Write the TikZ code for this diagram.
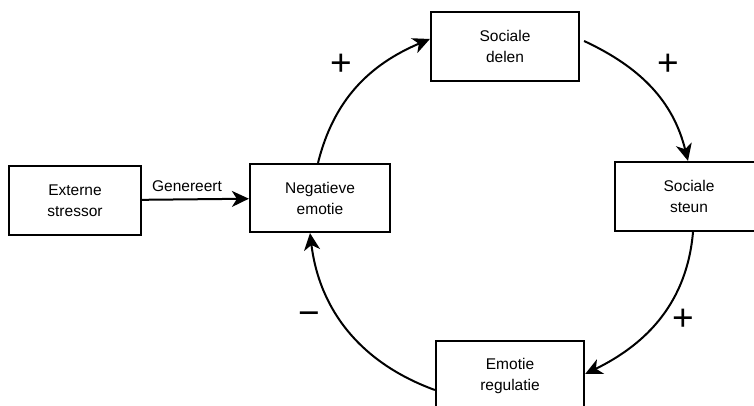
\documentclass[tikz,border=0pt]{standalone}
\usepackage{fontspec}
\setmainfont{Liberation Sans}
\usetikzlibrary{arrows.meta}
\tikzset{
  box/.style={draw=black, line width=2.2pt, fill=white, align=center, inner sep=0pt,
    font=\fontsize{15.5}{21}\selectfont, minimum height=69pt},
  arr/.style={line width=2pt, -{Stealth[length=17pt,width=16pt,inset=5pt]}},
  sign/.style={inner sep=0pt, font=\fontsize{37}{37}\selectfont},
  lbl/.style={inner sep=0pt, font=\fontsize{15.5}{18}\selectfont}
}
\begin{document}
\begin{tikzpicture}[x=1pt,y=1pt]
\useasboundingbox (0,0) rectangle (754,405);
\clip (0,0) rectangle (754,405);
\fill[white] (0,0) rectangle (754,405);
\node[box, minimum width=132pt] (ext) at (75,204.5) {Externe\\stressor};
\node[box, minimum width=140pt, minimum height=68pt] (neg) at (320,207) {Negatieve\\emotie};
\node[box, minimum width=148pt] (del) at (505,358.5) {Sociale\\delen};
\node[box, minimum width=148pt] (steun) at (689,208.5) {Sociale\\steun};
\node[box, minimum width=148pt] (reg) at (510,29.5) {Emotie\\regulatie};

\draw[arr] (ext) -- (neg);
\node[lbl] (gen) at (187,219) {Genereert};

\draw[arr] ([xshift=-2pt]neg.north) to[out=76,in=203] ([yshift=7.5pt]del.west);
\draw[arr] ([xshift=4pt,yshift=5.5pt]del.east) to[out=-25,in=104] ([xshift=-1pt]steun.north);
\draw[arr] ([xshift=4pt]steun.south) to[out=-95,in=26] ([yshift=1.5pt]reg.east);
\draw[arr] ([yshift=-14.5pt]reg.west) to[out=160,in=-83] ([xshift=-10pt]neg.south);

\node[sign] (p1) at (341,340) {+};
\node[sign] (p2) at (668,340) {+};
\node[sign] (p3) at (683,85) {+};
\node[sign] (m1) at (309,86) {−};
\end{tikzpicture}
\end{document}
